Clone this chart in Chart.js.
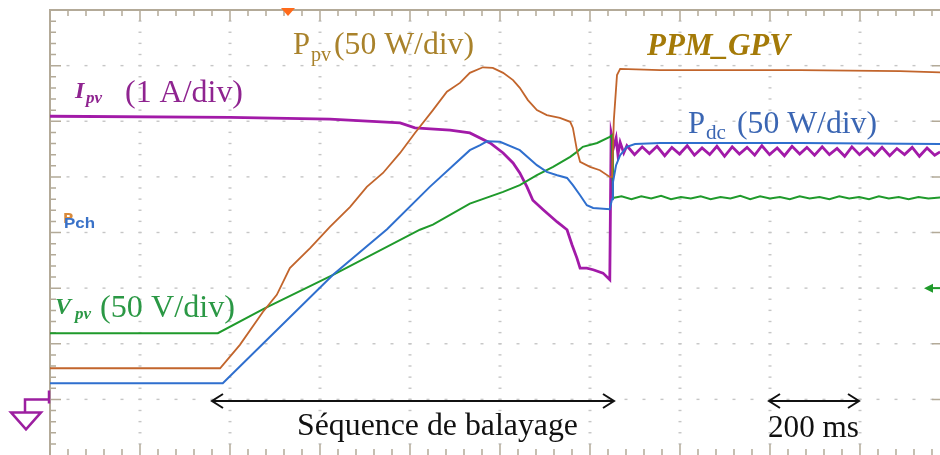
<!DOCTYPE html>
<html><head><meta charset="utf-8">
<script src="https://cdn.jsdelivr.net/npm/chart.js@4/dist/chart.umd.min.js"></script>
<style>html,body{margin:0;padding:0;background:#fff;overflow:hidden}canvas{display:block}</style>
</head><body>
<canvas id="c" width="940" height="455"></canvas>
<script>
// Horizontal axis: time in ms (200 ms / div). Vertical axis: screen divisions (0 = bottom of graticule).
const pdcTime = [0, 384, 629, 749, 844, 933, 956, 971, 1000, 1044, 1082, 1104, 1127, 1149, 1162, 1178, 1193, 1207, 1244, 1249, 1251, 1258, 1267, 1282, 1300, 1356, 1667, 1978];
const pdcDiv  = [1.29, 1.29, 3.24, 4.06, 4.82, 5.48, 5.57, 5.64, 5.63, 5.48, 5.21, 5.09, 5.03, 4.98, 4.85, 4.67, 4.49, 4.44, 4.42, 4.60, 4.90, 5.21, 5.39, 5.54, 5.59, 5.61, 5.61, 5.59];

const ppvTime = [0, 378, 422, 473, 504, 533, 578, 622, 667, 704, 740, 778, 811, 851, 882, 911, 933, 962, 984, 1007, 1029, 1044, 1062, 1082, 1104, 1133, 1156, 1162, 1171, 1178, 1200, 1222, 1244, 1249, 1253, 1260, 1267, 1356, 1444, 1667, 1889, 1978];
const ppvDiv  = [1.56, 1.56, 1.98, 2.57, 2.88, 3.36, 3.72, 4.10, 4.46, 4.82, 5.07, 5.43, 5.79, 6.20, 6.53, 6.69, 6.87, 6.97, 6.96, 6.87, 6.74, 6.60, 6.38, 6.20, 6.11, 6.06, 5.99, 5.88, 5.48, 5.27, 5.18, 5.12, 5.00, 5.00, 6.02, 6.83, 6.94, 6.92, 6.92, 6.92, 6.90, 6.88];

const vpvTime = [0, 373, 478, 629, 822, 851, 933, 1007, 1044, 1082, 1118, 1156, 1171, 1184, 1216, 1244, 1249, 1251,
  1270, 1292, 1314, 1336, 1358, 1380, 1402, 1424, 1446, 1468, 1490, 1512, 1534, 1556, 1578, 1600, 1622, 1644, 1666, 1688, 1710, 1732, 1754, 1776, 1798, 1820, 1842, 1864, 1886, 1908, 1930, 1952, 1978];
const vpvDiv  = [2.19, 2.19, 2.64, 3.24, 4.05, 4.14, 4.52, 4.73, 4.85, 5.03, 5.18, 5.36, 5.45, 5.54, 5.61, 5.72, 5.75, 4.62,
  4.65, 4.60, 4.65, 4.61, 4.66, 4.60, 4.64, 4.61, 4.65, 4.60, 4.64, 4.61, 4.66, 4.60, 4.65, 4.61, 4.64, 4.60, 4.65, 4.61, 4.64, 4.60, 4.65, 4.61, 4.64, 4.60, 4.65, 4.61, 4.64, 4.60, 4.64, 4.61, 4.63];

const ipvTime = [0, 400, 622, 778, 811, 889, 933, 978, 1007, 1029, 1044, 1060, 1073, 1096, 1127, 1149, 1160, 1171, 1178, 1193, 1207, 1229, 1244, 1247, 1253, 1258, 1262, 1267, 1275,
  1282, 1299, 1316, 1332, 1349, 1366, 1382, 1399, 1416, 1432, 1449, 1466, 1482, 1499, 1516, 1532, 1549, 1566, 1582, 1599, 1616, 1632, 1649, 1666, 1682, 1699, 1716, 1732, 1749, 1766, 1782, 1799, 1816, 1832, 1849, 1866, 1882, 1899, 1916, 1932, 1949, 1966, 1978];
const ipvDiv  = [6.09, 6.07, 6.04, 5.97, 5.88, 5.84, 5.79, 5.61, 5.43, 5.25, 5.07, 4.82, 4.58, 4.41, 4.19, 4.05, 3.78, 3.54, 3.36, 3.36, 3.33, 3.27, 3.15, 5.79, 5.55, 5.70, 5.40, 5.62, 5.43,
  5.56, 5.40, 5.54, 5.42, 5.55, 5.38, 5.53, 5.41, 5.56, 5.39, 5.52, 5.40, 5.55, 5.37, 5.54, 5.41, 5.53, 5.39, 5.56, 5.40, 5.52, 5.38, 5.55, 5.41, 5.53, 5.39, 5.54, 5.40, 5.51, 5.37, 5.54, 5.40, 5.52, 5.39, 5.53, 5.38, 5.51, 5.40, 5.53, 5.37, 5.52, 5.39, 5.45];

const xMax = 1977.8, yMax = 8;
const pts = (t, v) => t.map((x, i) => ({x, y: v[i]}));

const graticule = {
  id: 'graticule',
  beforeDatasetsDraw(chart) {
    const {ctx, scales: {x: X, y: Y}} = chart;
    const px = v => X.getPixelForValue(v), py = v => Y.getPixelForValue(v);
    ctx.save();
    ctx.fillStyle = '#fff';
    ctx.fillRect(0, 0, chart.width, chart.height);
    ctx.fillStyle = '#c6c6c6';
    for (let i = 1; i < 10; i++) {
      const x = px(i * 200);
      for (let k = 1; k < 40; k++) ctx.fillRect(x - 1.5, py(k * 0.2) - 0.7, 3, 1.4);
    }
    for (let j = 1; j < 8; j++) {
      const y = py(j);
      for (let k = 1; k < 50; k++) ctx.fillRect(px(k * 40) - 1.5, y - 0.7, 3, 1.4);
    }
    const L = px(0), T = py(8), B = py(0), R = px(2000);
    ctx.strokeStyle = '#b3aa98';
    ctx.lineWidth = 2;
    ctx.beginPath();
    ctx.moveTo(L, B); ctx.lineTo(L, T); ctx.lineTo(R, T);
    ctx.stroke();
    ctx.lineWidth = 1.5;
    ctx.beginPath();
    for (let k = 1; k < 40; k++) {
      const y = py(k * 0.2), len = (k % 5 === 0) ? 11 : 6;
      ctx.moveTo(L, y); ctx.lineTo(L + len, y);
      if (k % 5 === 0) { ctx.moveTo(R, y); ctx.lineTo(R - 18, y); }
    }
    for (let k = 1; k < 50; k++) {
      const x = px(k * 40), len = (k % 5 === 0) ? 11 : 6;
      ctx.moveTo(x, T); ctx.lineTo(x, T + len);
      ctx.moveTo(x, B); ctx.lineTo(x, B - len);
    }
    ctx.stroke();
    ctx.restore();
  },
  afterDatasetsDraw(chart) {
    const {ctx, scales: {x: X, y: Y}} = chart;
    const px = v => X.getPixelForValue(v), py = v => Y.getPixelForValue(v);
    ctx.save();
    const tx = 288;
    ctx.fillStyle = '#ff6a1a';
    ctx.beginPath(); ctx.moveTo(tx - 7, 8); ctx.lineTo(tx + 7, 8); ctx.lineTo(tx, 16); ctx.closePath(); ctx.fill();
    const gy = py(1);
    ctx.strokeStyle = '#9c1fa0'; ctx.lineWidth = 2.5;
    ctx.beginPath();
    ctx.moveTo(49, gy - 9); ctx.lineTo(49, gy + 4);
    ctx.moveTo(49, gy); ctx.lineTo(25, gy); ctx.lineTo(25, gy + 13);
    ctx.moveTo(11, gy + 13); ctx.lineTo(41, gy + 13); ctx.lineTo(26, gy + 30); ctx.closePath();
    ctx.stroke();
    const ay = py(3);
    ctx.strokeStyle = '#1f9a2b'; ctx.fillStyle = '#1f9a2b'; ctx.lineWidth = 2;
    ctx.beginPath(); ctx.moveTo(940, ay); ctx.lineTo(928, ay); ctx.stroke();
    ctx.beginPath(); ctx.moveTo(924, ay); ctx.lineTo(933, ay - 4.5); ctx.lineTo(933, ay + 4.5); ctx.closePath(); ctx.fill();
    ctx.font = 'bold 14px "DejaVu Sans", sans-serif';
    ctx.fillStyle = '#d98a3a'; ctx.fillText('P', 63, 223);
    ctx.font = 'bold 15px "Liberation Sans", Arial, sans-serif';
    ctx.fillStyle = '#3a72c8';
    fitText(ctx, 'Pch', 64, 228, 31);
    ctx.strokeStyle = '#111'; ctx.lineWidth = 2;
    dblArrow(ctx, 212, 614, 401);
    dblArrow(ctx, 769, 859, 401);
    const serif = '"Liberation Serif", "Times New Roman", serif';
    seg(ctx, 'P', 293, 54, '32px ' + serif, '#a9822b', 17);
    seg(ctx, 'pv', 311, 61, '20px ' + serif, '#a9822b', 20);
    seg(ctx, '(50 W/div)', 334, 54, '32px ' + serif, '#a9822b', 140);
    seg(ctx, 'PPM_GPV', 647, 55, 'italic bold 31px ' + serif, '#a47a08', 143);
    seg(ctx, 'I', 75, 98, 'italic bold 24px ' + serif, '#8f2490');
    seg(ctx, 'pv', 86, 103, 'italic bold 17px ' + serif, '#8f2490');
    seg(ctx, '(1 A/div)', 125, 102, '31px ' + serif, '#8f2490', 118);
    seg(ctx, 'P', 688, 133, '32px ' + serif, '#3b66b3', 17);
    seg(ctx, 'dc', 706, 139, '20px ' + serif, '#3b66b3', 20);
    seg(ctx, '(50 W/div)', 737, 133, '32px ' + serif, '#3b66b3', 140);
    seg(ctx, 'V', 55, 314, 'italic bold 24px ' + serif, '#2b9845');
    seg(ctx, 'pv', 75, 319, 'italic bold 17px ' + serif, '#2b9845');
    seg(ctx, '(50 V/div)', 100, 317, '31px ' + serif, '#2b9845', 135);
    seg(ctx, 'Séquence de balayage', 297, 435, '31px ' + serif, '#111', 281);
    seg(ctx, '200 ms', 768, 437, '32px ' + serif, '#111', 91);
    ctx.restore();
  }
};
function fitText(ctx, t, x, y, w) {
  const m = ctx.measureText(t).width;
  ctx.save(); ctx.translate(x, y); ctx.scale(w / m, 1); ctx.fillText(t, 0, 0); ctx.restore();
}
function seg(ctx, t, x, y, font, color, w) {
  ctx.font = font; ctx.fillStyle = color;
  if (w) fitText(ctx, t, x, y, w); else ctx.fillText(t, x, y);
}
function dblArrow(ctx, x1, x2, y) {
  ctx.beginPath();
  ctx.moveTo(x1, y); ctx.lineTo(x2, y);
  ctx.moveTo(x1 + 11, y - 7); ctx.lineTo(x1, y); ctx.lineTo(x1 + 11, y + 7);
  ctx.moveTo(x2 - 11, y - 7); ctx.lineTo(x2, y); ctx.lineTo(x2 - 11, y + 7);
  ctx.stroke();
}

new Chart(document.getElementById('c'), {
  type: 'scatter',
  data: {
    datasets: [
      {label: 'Ppv', data: pts(ppvTime, ppvDiv), borderColor: '#c2652c', borderWidth: 1.8},
      {label: 'Pdc', data: pts(pdcTime, pdcDiv), borderColor: '#2f6fce', borderWidth: 2},
      {label: 'Vpv', data: pts(vpvTime, vpvDiv), borderColor: '#1f9a2b', borderWidth: 2},
      {label: 'Ipv', data: pts(ipvTime, ipvDiv), borderColor: '#a21aa8', borderWidth: 2.8}
    ]
  },
  options: {
    responsive: false,
    animation: false,
    showLine: true,
    layout: {padding: {left: 50, top: 10, right: 0, bottom: 0}},
    elements: {point: {radius: 0, hoverRadius: 0}, line: {tension: 0, fill: false}},
    plugins: {legend: {display: false}, tooltip: {enabled: false}},
    scales: {
      x: {type: 'linear', min: 0, max: xMax, display: false},
      y: {type: 'linear', min: 0, max: yMax, display: false}
    }
  },
  plugins: [graticule]
});
</script>
</body></html>
